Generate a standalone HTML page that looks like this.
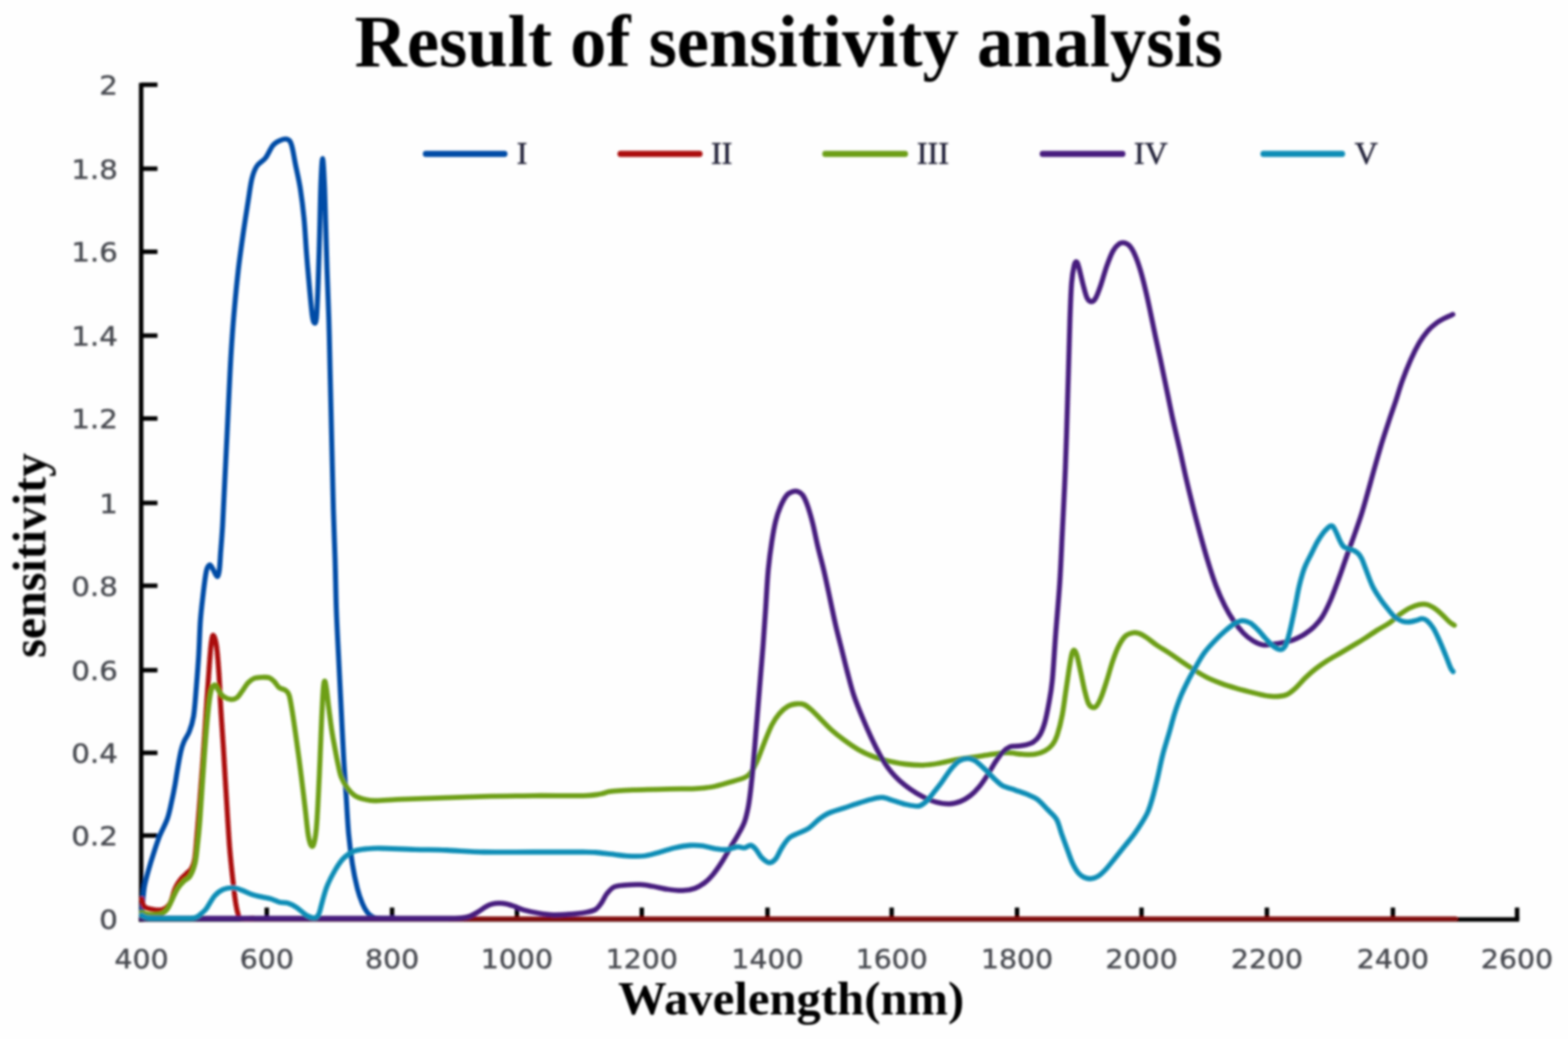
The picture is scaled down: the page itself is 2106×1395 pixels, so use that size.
<!DOCTYPE html>
<html lang="en"><head><meta charset="utf-8"><title>Result of sensitivity analysis</title>
<style>
html,body{margin:0;padding:0;background:#fefefe;}
body{width:2106px;height:1395px;overflow:hidden;}
svg{display:block;}
.serifb{font-family:"Liberation Serif",serif;font-weight:bold;fill:#000;}
.tick{font-family:"DejaVu Sans","Liberation Sans",sans-serif;fill:#474a50;stroke:#474a50;stroke-width:0.6px;font-size:38.6px;}
.leg{font-family:"Liberation Serif",serif;fill:#24243a;stroke:#24243a;stroke-width:0.7px;font-size:43px;}
.curve{fill:none;stroke-width:6.8;stroke-linejoin:round;stroke-linecap:round;}
</style></head><body>
<svg width="2106" height="1395" viewBox="0 0 2106 1395">
<defs><filter id="soft" x="0" y="0" width="2106" height="1395" filterUnits="userSpaceOnUse"><feGaussianBlur stdDeviation="1.4"/></filter></defs>
<rect x="0" y="0" width="2106" height="1395" fill="#fefefe"/>
<g filter="url(#soft)">
<text class="serifb" x="1059.3" y="89.2" font-size="100" text-anchor="middle" textLength="1166" lengthAdjust="spacingAndGlyphs">Result of sensitivity analysis</text>
<text class="serifb" x="1062.6" y="1361.8" font-size="63" text-anchor="middle" textLength="465" lengthAdjust="spacingAndGlyphs">Wavelength(nm)</text>
<text class="serifb" transform="translate(60.8 745.6) rotate(-90)" font-size="64" text-anchor="middle" textLength="275" lengthAdjust="spacingAndGlyphs">sensitivity</text>
<g stroke="#000" stroke-width="6.0" fill="none" stroke-linecap="butt">
<path d="M189.6 111.2V1237.4"/>
<path d="M186.6 1234.4H2040.5"/>
<path d="M189.6 113.8H211.5"/>
<path d="M189.6 226.5H211.5"/>
<path d="M189.6 338.0H211.5"/>
<path d="M189.6 450.6H211.5"/>
<path d="M189.6 561.9H211.5"/>
<path d="M189.6 675.3H211.5"/>
<path d="M189.6 786.4H211.5"/>
<path d="M189.6 899.8H211.5"/>
<path d="M189.6 1010.8H211.5"/>
<path d="M189.6 1121.8H211.5"/>
<path d="M358.3 1234.4V1218.5"/>
<path d="M526.6 1234.4V1218.5"/>
<path d="M694.3 1234.4V1218.5"/>
<path d="M862.0 1234.4V1218.5"/>
<path d="M1030.8 1234.4V1218.5"/>
<path d="M1197.6 1234.4V1218.5"/>
<path d="M1366.0 1234.4V1218.5"/>
<path d="M1533.2 1234.4V1218.5"/>
<path d="M1701.6 1234.4V1218.5"/>
<path d="M1870.8 1234.4V1218.5"/>
<path d="M2037.6 1234.4V1218.5"/>
</g>
<text class="tick" transform="translate(158.3 127.0) scale(1.02 0.9)" text-anchor="end">2</text>
<text class="tick" transform="translate(158.3 239.7) scale(1.02 0.9)" text-anchor="end">1.8</text>
<text class="tick" transform="translate(158.3 351.2) scale(1.02 0.9)" text-anchor="end">1.6</text>
<text class="tick" transform="translate(158.3 463.8) scale(1.02 0.9)" text-anchor="end">1.4</text>
<text class="tick" transform="translate(158.3 575.1) scale(1.02 0.9)" text-anchor="end">1.2</text>
<text class="tick" transform="translate(158.3 688.5) scale(1.02 0.9)" text-anchor="end">1</text>
<text class="tick" transform="translate(158.3 799.6) scale(1.02 0.9)" text-anchor="end">0.8</text>
<text class="tick" transform="translate(158.3 913.0) scale(1.02 0.9)" text-anchor="end">0.6</text>
<text class="tick" transform="translate(158.3 1024.0) scale(1.02 0.9)" text-anchor="end">0.4</text>
<text class="tick" transform="translate(158.3 1135.0) scale(1.02 0.9)" text-anchor="end">0.2</text>
<text class="tick" transform="translate(158.3 1247.2) scale(1.02 0.9)" text-anchor="end">0</text>
<text class="tick" transform="translate(190.2 1300.2) scale(0.987 0.9)" text-anchor="middle">400</text>
<text class="tick" transform="translate(358.3 1300.2) scale(0.987 0.9)" text-anchor="middle">600</text>
<text class="tick" transform="translate(526.6 1300.2) scale(0.987 0.9)" text-anchor="middle">800</text>
<text class="tick" transform="translate(694.3 1300.2) scale(0.987 0.9)" text-anchor="middle">1000</text>
<text class="tick" transform="translate(862.0 1300.2) scale(0.987 0.9)" text-anchor="middle">1200</text>
<text class="tick" transform="translate(1030.8 1300.2) scale(0.987 0.9)" text-anchor="middle">1400</text>
<text class="tick" transform="translate(1197.6 1300.2) scale(0.987 0.9)" text-anchor="middle">1600</text>
<text class="tick" transform="translate(1366.0 1300.2) scale(0.987 0.9)" text-anchor="middle">1800</text>
<text class="tick" transform="translate(1533.2 1300.2) scale(0.987 0.9)" text-anchor="middle">2000</text>
<text class="tick" transform="translate(1701.6 1300.2) scale(0.987 0.9)" text-anchor="middle">2200</text>
<text class="tick" transform="translate(1870.8 1300.2) scale(0.987 0.9)" text-anchor="middle">2400</text>
<text class="tick" transform="translate(2037.4 1300.2) scale(0.987 0.9)" text-anchor="middle">2600</text>
<path class="curve" stroke="#064ca6" d="M190.5 1226.0C190.7 1223.9 190.9 1219.4 191.5 1213.5C192.1 1207.6 192.6 1198.3 193.9 1190.7C195.2 1183.1 197.5 1175.5 199.6 1167.9C201.7 1160.3 204.0 1152.7 206.5 1145.1C209.0 1137.5 211.4 1129.9 214.4 1122.3C217.4 1114.7 222.0 1107.1 224.7 1099.5C227.4 1091.9 228.7 1084.4 230.4 1076.8C232.1 1069.2 233.7 1061.3 235.0 1054.0C236.3 1046.7 237.1 1040.6 238.4 1033.0C239.7 1025.4 241.6 1014.6 243.0 1008.4C244.4 1002.2 245.1 1000.4 247.0 996.0C248.9 991.6 252.1 987.8 254.3 982.1C256.5 976.4 258.5 971.1 260.0 961.6C261.5 952.1 262.4 938.8 263.5 925.1C264.6 911.4 266.0 894.7 266.9 879.5C267.8 864.3 268.2 847.3 269.1 834.0C270.1 820.7 271.3 811.0 272.6 799.8C273.9 788.6 275.6 773.9 277.1 767.0C278.6 760.1 280.2 758.9 281.7 758.5C283.2 758.1 284.6 761.9 286.2 764.5C287.8 767.1 290.1 773.8 291.5 774.0C292.9 774.2 293.7 771.3 294.5 766.0C295.3 760.7 295.6 752.2 296.3 742.0C297.1 731.8 298.1 720.3 299.0 705.0C299.9 689.7 300.7 670.3 301.7 650.0C302.7 629.7 304.0 603.0 305.0 583.0C306.0 563.0 306.8 545.5 307.5 530.0C308.2 514.5 308.8 503.3 309.5 490.0C310.2 476.7 311.1 462.8 312.0 450.0C312.9 437.2 313.7 427.5 315.0 413.0C316.3 398.5 318.1 379.7 320.0 363.0C321.9 346.3 324.5 328.5 326.7 313.0C328.9 297.5 331.4 282.2 333.3 270.0C335.2 257.8 336.4 247.8 338.3 240.0C340.2 232.2 341.9 227.7 345.0 223.0C348.1 218.3 353.1 216.7 356.7 212.0C360.3 207.3 363.4 198.9 366.7 195.0C370.0 191.1 373.4 189.6 376.7 188.3C380.0 187.0 384.2 186.2 386.7 187.3C389.2 188.4 390.0 189.6 391.7 195.0C393.4 200.4 394.8 210.3 396.7 220.0C398.6 229.7 401.4 240.8 403.3 253.0C405.2 265.2 406.9 278.5 408.3 293.0C409.7 307.5 410.5 324.3 411.7 340.0C412.9 355.7 414.4 373.2 415.7 387.0C417.0 400.8 418.3 415.3 419.3 423.0C420.3 430.7 420.8 432.3 421.7 433.0C422.6 433.7 424.1 435.8 425.0 427.0C425.9 418.2 426.6 399.0 427.3 380.0C428.0 361.0 428.7 335.2 429.3 313.0C429.9 290.8 430.3 263.7 431.0 247.0C431.7 230.3 432.5 213.0 433.3 213.0C434.1 213.0 435.0 233.0 435.7 247.0C436.4 261.0 436.7 277.7 437.3 297.0C437.9 316.3 438.6 340.8 439.3 363.0C440.0 385.2 441.0 407.7 441.7 430.0C442.4 452.3 442.6 468.7 443.3 497.0C444.0 525.3 445.0 569.0 445.7 600.0C446.4 631.0 447.0 658.0 447.7 683.0C448.4 708.0 449.3 727.7 450.0 750.0C450.7 772.3 450.9 794.2 451.7 817.0C452.5 839.8 453.9 864.3 455.0 887.0C456.1 909.7 457.2 930.8 458.3 953.0C459.4 975.2 460.6 1000.5 461.7 1020.0C462.8 1039.5 463.9 1053.3 465.0 1070.0C466.1 1086.7 466.9 1105.0 468.3 1120.0C469.7 1135.0 471.4 1147.8 473.3 1160.0C475.2 1172.2 477.8 1184.2 480.0 1193.0C482.2 1201.8 484.5 1207.7 486.7 1213.0C488.9 1218.3 491.1 1222.0 493.3 1225.0C495.5 1228.0 497.7 1229.4 500.0 1230.7C502.3 1232.0 502.0 1232.6 507.0 1233.0C512.0 1233.4 526.2 1233.0 530.0 1233.0"/>
<path class="curve" stroke="#820b0b" style="stroke-width:6.2px" d="M330 1233.6H1955"/>
<path class="curve" stroke="#ab0c0c" d="M190.5 1207.0C191.0 1208.6 191.7 1214.5 193.3 1216.7C194.9 1218.9 196.1 1219.2 200.0 1220.0C203.9 1220.8 212.0 1222.8 216.7 1221.7C221.4 1220.6 224.9 1218.0 228.0 1213.3C231.1 1208.6 232.7 1198.6 235.0 1193.3C237.3 1188.0 239.3 1185.0 241.8 1181.7C244.3 1178.4 247.5 1175.8 250.0 1173.3C252.5 1170.8 254.9 1170.0 256.8 1166.7C258.7 1163.4 260.2 1161.1 261.5 1153.3C262.8 1145.5 263.6 1132.2 264.7 1120.0C265.8 1107.8 266.7 1096.7 268.0 1080.0C269.3 1063.3 271.0 1041.1 272.5 1020.0C274.0 998.9 275.6 974.4 277.0 953.3C278.4 932.2 280.1 908.3 281.2 893.3C282.3 878.3 282.9 870.0 283.8 863.3C284.7 856.6 285.4 852.4 286.5 853.0C287.6 853.6 289.4 858.3 290.7 866.7C291.9 875.1 293.0 888.9 294.0 903.3C295.0 917.7 295.7 936.6 296.7 953.3C297.7 970.0 298.8 983.8 300.0 1003.3C301.2 1022.8 302.6 1047.8 304.0 1070.0C305.4 1092.2 306.8 1117.2 308.3 1136.7C309.9 1156.2 311.9 1173.9 313.3 1186.7C314.7 1199.5 315.6 1206.4 316.7 1213.3C317.8 1220.2 319.0 1225.0 320.0 1228.3C321.0 1231.6 319.2 1232.2 322.5 1233.0C325.8 1233.8 337.1 1233.0 340.0 1233.0"/>
<path class="curve" stroke="#6d9f12" d="M190.5 1225.0C192.1 1225.5 195.6 1227.7 200.0 1228.0C204.4 1228.3 212.5 1228.3 216.7 1227.0C220.9 1225.7 222.5 1223.4 225.0 1220.0C227.5 1216.6 229.5 1211.2 231.7 1206.7C233.9 1202.2 235.8 1197.2 238.3 1193.3C240.8 1189.4 243.9 1186.1 246.7 1183.3C249.5 1180.5 252.5 1180.6 255.0 1176.7C257.5 1172.8 260.0 1166.7 261.7 1160.0C263.4 1153.3 263.9 1146.2 265.0 1136.7C266.1 1127.2 267.2 1117.2 268.3 1103.3C269.4 1089.4 270.6 1069.4 271.7 1053.3C272.8 1037.2 273.9 1021.1 275.0 1006.7C276.1 992.3 277.2 978.4 278.3 966.7C279.4 955.0 280.6 943.9 281.7 936.7C282.8 929.5 283.7 926.1 285.0 923.3C286.3 920.5 287.9 919.4 289.3 920.0C290.7 920.6 291.5 924.2 293.3 926.7C295.1 929.2 297.2 933.0 300.0 935.0C302.8 937.0 306.9 938.7 310.0 939.0C313.1 939.3 315.8 938.5 318.3 936.7C320.8 934.9 322.5 931.6 325.0 928.3C327.5 925.0 330.5 919.6 333.3 916.7C336.1 913.8 338.6 911.9 341.7 910.7C344.8 909.5 348.4 909.4 351.7 909.3C355.0 909.2 358.9 909.0 361.7 910.0C364.5 911.0 366.1 912.8 368.3 915.0C370.5 917.2 372.5 921.3 375.0 923.3C377.5 925.2 381.1 925.0 383.3 926.7C385.5 928.4 386.8 928.9 388.3 933.3C389.8 937.7 390.7 944.4 392.2 953.3C393.7 962.2 395.6 975.6 397.2 986.7C398.8 997.8 400.3 1008.9 401.8 1020.0C403.3 1031.1 404.6 1042.2 406.0 1053.3C407.4 1064.4 408.7 1075.6 410.0 1086.7C411.3 1097.8 412.6 1112.0 413.8 1120.0C415.1 1128.0 416.3 1132.2 417.5 1134.5C418.7 1136.8 420.0 1137.5 421.2 1134.0C422.4 1130.5 423.8 1124.0 424.8 1113.3C425.9 1102.6 426.7 1085.5 427.5 1070.0C428.3 1054.5 429.1 1036.7 429.8 1020.0C430.5 1003.3 431.1 985.3 431.8 970.0C432.5 954.7 433.3 937.2 434.0 928.0C434.7 918.8 435.2 915.0 436.0 914.5C436.8 914.0 437.6 919.1 438.5 925.0C439.4 930.9 440.3 940.8 441.5 950.0C442.7 959.2 444.2 971.2 445.5 980.0C446.8 988.8 448.1 995.3 449.5 1003.0C450.9 1010.7 452.5 1019.3 454.0 1026.0C455.5 1032.7 456.2 1037.9 458.3 1043.3C460.4 1048.7 463.6 1054.1 466.7 1058.3C469.8 1062.5 472.8 1065.8 476.7 1068.3C480.6 1070.8 485.6 1072.2 490.0 1073.3C494.4 1074.4 496.1 1075.0 503.3 1075.0C510.5 1075.0 520.0 1073.8 533.3 1073.3C546.6 1072.8 563.8 1072.4 583.3 1071.7C602.8 1071.0 627.8 1069.9 650.0 1069.3C672.2 1068.7 694.5 1068.5 716.7 1068.3C738.9 1068.1 768.3 1068.7 783.3 1068.3C798.3 1067.9 800.6 1066.9 806.7 1066.0C812.8 1065.1 812.8 1063.6 820.0 1062.7C827.2 1061.8 836.7 1061.3 850.0 1060.7C863.3 1060.1 886.1 1059.6 900.0 1059.3C913.9 1059.0 923.8 1059.3 933.3 1058.8C942.8 1058.3 948.9 1057.9 956.7 1056.5C964.5 1055.1 972.8 1052.4 980.0 1050.3C987.2 1048.2 995.3 1046.1 1000.0 1044.0C1004.7 1041.9 1005.5 1041.2 1008.3 1037.5C1011.1 1033.8 1013.6 1028.8 1016.7 1022.0C1019.8 1015.2 1023.4 1004.8 1026.7 996.7C1030.0 988.6 1033.4 979.7 1036.7 973.3C1040.0 966.9 1043.1 962.5 1046.7 958.3C1050.3 954.1 1054.4 950.5 1058.3 948.3C1062.2 946.1 1066.4 945.4 1070.0 945.0C1073.6 944.6 1076.7 944.6 1080.0 946.0C1083.3 947.4 1086.4 950.1 1090.0 953.3C1093.6 956.5 1097.2 960.5 1101.7 965.0C1106.2 969.5 1111.4 975.3 1116.7 980.0C1122.0 984.7 1127.2 988.8 1133.3 993.3C1139.4 997.8 1146.6 1002.9 1153.3 1006.7C1160.0 1010.5 1166.6 1013.5 1173.3 1016.0C1180.0 1018.5 1186.1 1020.0 1193.3 1021.7C1200.5 1023.4 1208.9 1025.1 1216.7 1026.0C1224.5 1026.9 1232.8 1027.5 1240.0 1027.3C1247.2 1027.1 1252.8 1026.2 1260.0 1025.0C1267.2 1023.8 1275.5 1021.4 1283.3 1020.0C1291.1 1018.6 1298.4 1017.9 1306.7 1016.7C1315.0 1015.5 1325.5 1013.7 1333.3 1012.7C1341.1 1011.7 1346.6 1010.7 1353.3 1010.7C1360.0 1010.7 1367.2 1012.4 1373.3 1012.7C1379.4 1013.0 1385.0 1013.4 1390.0 1012.7C1395.0 1012.0 1399.4 1010.4 1403.3 1008.3C1407.2 1006.2 1410.5 1003.6 1413.3 1000.0C1416.1 996.4 1417.8 993.4 1420.0 986.7C1422.2 980.0 1424.8 970.0 1426.7 960.0C1428.7 950.0 1430.0 937.8 1431.7 926.7C1433.4 915.6 1435.3 901.6 1436.7 893.3C1438.1 885.0 1438.9 880.0 1440.0 876.7C1441.1 873.4 1442.2 872.6 1443.3 873.3C1444.4 874.0 1445.3 876.0 1446.7 881.0C1448.1 886.0 1450.0 895.7 1451.7 903.3C1453.4 910.9 1455.0 919.9 1456.7 926.7C1458.4 933.5 1460.0 940.2 1461.7 944.0C1463.4 947.8 1464.9 948.8 1466.7 949.5C1468.5 950.2 1470.5 950.5 1472.5 948.3C1474.5 946.0 1476.6 941.8 1479.0 936.0C1481.4 930.2 1484.2 921.1 1486.7 913.3C1489.2 905.5 1491.5 896.4 1494.0 889.0C1496.5 881.6 1498.9 874.8 1501.7 869.0C1504.5 863.2 1507.8 857.7 1511.0 854.5C1514.2 851.3 1517.8 850.4 1521.0 849.7C1524.2 849.0 1526.8 849.5 1530.0 850.5C1533.2 851.5 1536.1 853.4 1540.0 856.0C1543.9 858.6 1548.3 862.6 1553.3 866.0C1558.3 869.4 1564.4 872.8 1570.0 876.5C1575.6 880.2 1581.2 884.2 1586.7 888.0C1592.2 891.8 1597.8 895.5 1603.3 899.0C1608.8 902.5 1613.9 905.9 1620.0 909.0C1626.1 912.1 1633.3 915.0 1640.0 917.5C1646.7 920.0 1653.3 922.0 1660.0 924.0C1666.7 926.0 1673.3 927.6 1680.0 929.3C1686.7 931.0 1693.9 933.0 1700.0 934.0C1706.1 935.0 1712.0 935.2 1716.7 935.0C1721.4 934.8 1724.4 934.5 1728.3 932.7C1732.2 930.9 1735.8 927.8 1740.0 924.0C1744.2 920.2 1748.8 914.3 1753.3 910.0C1757.8 905.7 1761.7 902.2 1766.7 898.3C1771.7 894.4 1777.8 890.2 1783.3 886.7C1788.8 883.2 1794.4 880.3 1800.0 877.0C1805.6 873.7 1811.2 870.3 1816.7 867.0C1822.2 863.7 1827.8 860.5 1833.3 857.0C1838.8 853.5 1844.4 849.5 1850.0 846.0C1855.6 842.5 1861.7 839.5 1866.7 836.0C1871.7 832.5 1875.6 828.2 1880.0 825.0C1884.4 821.8 1888.8 818.7 1893.3 816.5C1897.8 814.3 1902.8 812.5 1906.7 811.7C1910.6 810.9 1913.4 810.9 1916.7 811.7C1920.0 812.5 1923.4 814.5 1926.7 816.7C1930.0 818.9 1933.4 822.0 1936.7 825.0C1940.0 828.0 1943.9 832.6 1946.7 835.0C1949.5 837.4 1952.2 838.8 1953.3 839.5"/>
<path class="curve" stroke="#471e7e" d="M190.5 1233.0C208.8 1233.0 265.1 1233.0 300.0 1233.0C334.9 1233.0 366.7 1233.0 400.0 1233.0C433.3 1233.0 473.3 1233.0 500.0 1233.0C526.7 1233.0 543.3 1233.0 560.0 1233.0C576.7 1233.0 590.0 1233.1 600.0 1233.0C610.0 1232.9 615.0 1232.7 620.0 1232.3C625.0 1231.9 626.5 1231.7 630.0 1230.5C633.5 1229.3 637.3 1227.2 641.0 1225.0C644.7 1222.8 649.1 1219.4 652.4 1217.5C655.7 1215.6 658.0 1214.6 661.0 1213.8C664.0 1213.0 667.5 1212.6 670.7 1212.6C673.9 1212.6 676.6 1212.9 680.0 1213.6C683.4 1214.3 687.3 1215.7 691.2 1217.0C695.1 1218.3 697.9 1220.2 703.3 1221.7C708.6 1223.2 716.6 1224.9 723.3 1226.0C730.0 1227.1 736.1 1228.1 743.3 1228.3C750.5 1228.5 759.5 1227.8 766.7 1227.3C773.9 1226.8 781.2 1226.0 786.7 1225.0C792.2 1224.0 796.5 1223.2 800.0 1221.0C803.5 1218.8 805.5 1215.5 808.0 1212.0C810.5 1208.5 812.2 1203.5 815.0 1200.0C817.8 1196.5 820.8 1192.7 825.0 1190.7C829.2 1188.8 834.2 1188.8 840.0 1188.3C845.8 1187.8 853.9 1187.4 860.0 1187.7C866.1 1188.0 870.6 1189.0 876.7 1190.0C882.8 1191.0 890.0 1193.0 896.7 1194.0C903.4 1195.0 910.6 1195.9 916.7 1195.7C922.8 1195.5 928.3 1194.5 933.3 1192.7C938.3 1190.9 942.5 1188.2 946.7 1185.0C950.9 1181.8 954.4 1178.0 958.3 1173.3C962.2 1168.6 966.1 1162.8 970.0 1156.7C973.9 1150.6 978.1 1142.8 981.7 1136.7C985.3 1130.6 988.7 1125.6 991.7 1120.0C994.8 1114.4 997.8 1109.4 1000.0 1103.3C1002.2 1097.2 1003.6 1090.5 1005.0 1083.3C1006.4 1076.1 1007.2 1069.4 1008.3 1060.0C1009.4 1050.6 1010.6 1038.9 1011.7 1026.7C1012.8 1014.5 1013.9 1000.0 1015.0 986.7C1016.1 973.4 1017.2 960.3 1018.3 946.7C1019.4 933.1 1020.6 918.6 1021.7 905.0C1022.8 891.4 1023.9 879.5 1025.0 865.0C1026.1 850.5 1027.2 834.4 1028.3 818.0C1029.4 801.6 1030.3 781.9 1031.7 766.7C1033.1 751.5 1035.0 737.8 1036.7 726.7C1038.4 715.6 1039.8 707.8 1041.7 700.0C1043.6 692.2 1045.8 685.8 1048.3 680.0C1050.8 674.2 1053.9 668.3 1056.7 665.0C1059.5 661.7 1062.5 660.8 1065.0 660.0C1067.5 659.2 1069.5 659.2 1071.7 660.0C1073.9 660.8 1076.1 661.7 1078.3 665.0C1080.5 668.3 1082.8 673.6 1085.0 680.0C1087.2 686.4 1089.5 694.4 1091.7 703.3C1093.9 712.2 1095.8 722.7 1098.3 733.3C1100.8 743.9 1103.9 754.8 1106.7 766.7C1109.5 778.7 1112.4 792.8 1115.0 805.0C1117.6 817.2 1120.0 829.2 1122.5 840.0C1125.0 850.8 1127.4 859.7 1130.0 870.0C1132.6 880.3 1135.2 891.5 1138.0 902.0C1140.8 912.5 1143.3 923.1 1146.7 933.3C1150.1 943.5 1154.4 953.8 1158.3 963.3C1162.2 972.8 1166.1 981.7 1170.0 990.0C1173.9 998.3 1177.8 1006.3 1181.7 1013.3C1185.6 1020.2 1189.1 1026.1 1193.3 1031.7C1197.5 1037.3 1201.7 1042.0 1206.7 1046.7C1211.7 1051.4 1217.8 1056.1 1223.3 1060.0C1228.8 1063.9 1234.4 1067.2 1240.0 1070.0C1245.6 1072.8 1250.9 1075.2 1256.7 1076.7C1262.5 1078.2 1269.5 1079.4 1275.0 1079.3C1280.5 1079.2 1285.3 1077.8 1290.0 1076.0C1294.7 1074.2 1299.1 1071.5 1303.3 1068.3C1307.5 1065.1 1311.1 1061.4 1315.0 1056.7C1318.9 1052.0 1323.1 1045.6 1326.7 1040.0C1330.3 1034.4 1333.4 1028.3 1336.7 1023.3C1340.0 1018.3 1343.4 1013.4 1346.7 1010.0C1350.0 1006.6 1353.4 1004.1 1356.7 1002.7C1360.0 1001.3 1363.1 1002.2 1366.7 1001.7C1370.3 1001.2 1374.7 1001.0 1378.3 1000.0C1381.9 999.0 1385.2 998.2 1388.3 996.0C1391.4 993.8 1394.2 991.0 1396.7 986.7C1399.2 982.4 1401.4 976.7 1403.3 970.0C1405.2 963.3 1406.6 956.0 1408.3 946.7C1410.0 937.4 1411.7 930.1 1413.3 914.0C1414.9 897.9 1416.3 871.8 1418.0 850.0C1419.7 828.2 1421.8 805.5 1423.3 783.3C1424.8 761.1 1425.6 738.9 1426.7 716.7C1427.8 694.5 1429.0 672.2 1430.0 650.0C1431.0 627.8 1431.7 608.3 1432.5 583.3C1433.3 558.3 1434.2 525.5 1435.0 500.0C1435.8 474.4 1436.3 450.0 1437.0 430.0C1437.7 410.0 1438.3 392.2 1439.3 380.0C1440.2 367.8 1441.6 361.4 1442.7 356.7C1443.8 352.0 1444.9 351.1 1446.0 351.7C1447.1 352.2 1447.8 354.7 1449.3 360.0C1450.8 365.3 1453.2 376.6 1455.0 383.3C1456.8 390.0 1458.2 396.4 1460.0 400.0C1461.8 403.6 1464.0 405.0 1466.0 405.0C1468.0 405.0 1469.7 403.6 1471.7 400.0C1473.8 396.4 1475.8 390.5 1478.3 383.3C1480.8 376.1 1483.9 364.5 1486.7 356.7C1489.5 348.9 1492.2 341.6 1495.0 336.7C1497.8 331.8 1500.8 329.1 1503.3 327.3C1505.8 325.5 1507.6 325.5 1510.0 326.0C1512.4 326.5 1515.0 327.6 1517.5 330.5C1520.0 333.4 1522.4 337.8 1524.8 343.3C1527.2 348.8 1529.5 355.5 1531.8 363.3C1534.1 371.1 1536.5 380.6 1538.7 390.0C1541.0 399.4 1543.2 410.0 1545.3 420.0C1547.4 430.0 1549.3 439.4 1551.5 450.0C1553.7 460.6 1556.1 471.1 1558.7 483.3C1561.3 495.5 1564.2 510.0 1567.0 523.3C1569.8 536.6 1572.4 550.0 1575.3 563.3C1578.2 576.6 1581.5 590.0 1584.5 603.3C1587.5 616.6 1590.2 630.0 1593.3 643.3C1596.4 656.6 1599.8 670.5 1603.0 683.3C1606.2 696.1 1609.5 708.3 1612.7 720.0C1615.9 731.7 1618.8 742.2 1622.2 753.3C1625.6 764.4 1629.5 776.7 1633.3 786.7C1637.1 796.7 1641.1 805.5 1645.0 813.3C1648.9 821.1 1652.5 827.2 1656.7 833.3C1660.9 839.4 1665.6 845.4 1670.0 850.0C1674.4 854.6 1678.8 858.0 1683.3 860.7C1687.8 863.4 1692.2 865.3 1696.7 866.0C1701.2 866.7 1705.6 865.5 1710.0 865.0C1714.4 864.5 1718.8 863.7 1723.3 862.7C1727.8 861.8 1732.6 860.8 1736.7 859.3C1740.8 857.8 1745.0 855.6 1748.0 854.0C1751.0 852.4 1752.1 851.7 1755.0 849.5C1757.9 847.3 1762.0 844.4 1765.5 840.8C1769.0 837.2 1772.4 833.8 1776.0 828.0C1779.6 822.2 1783.2 814.7 1787.0 806.0C1790.8 797.3 1794.5 786.8 1798.5 776.0C1802.5 765.2 1807.2 751.1 1810.8 741.0C1814.4 730.9 1817.2 723.6 1820.0 715.5C1822.8 707.4 1825.4 700.3 1827.9 692.5C1830.4 684.7 1832.7 676.6 1834.9 668.8C1837.1 661.0 1839.2 653.5 1841.3 645.9C1843.4 638.2 1845.5 630.5 1847.7 622.9C1849.9 615.2 1852.2 607.1 1854.3 600.0C1856.4 592.9 1858.4 586.7 1860.6 580.0C1862.8 573.3 1865.0 566.7 1867.2 560.0C1869.5 553.3 1871.4 548.0 1874.1 540.0C1876.8 532.0 1879.8 521.4 1883.2 511.9C1886.6 502.4 1890.9 491.8 1894.7 483.2C1898.5 474.6 1902.4 466.8 1906.2 460.3C1910.0 453.8 1913.9 448.6 1917.7 444.2C1921.5 439.8 1925.3 436.8 1929.1 433.9C1932.9 431.0 1936.9 428.9 1940.6 427.0C1944.3 425.1 1949.5 423.0 1951.3 422.2"/>
<path class="curve" stroke="#0b8db6" d="M190.5 1229.0C192.1 1229.6 193.4 1231.9 200.0 1232.5C206.6 1233.1 220.8 1232.8 230.0 1232.8C239.2 1232.8 249.8 1232.9 255.0 1232.8C260.2 1232.7 259.4 1232.6 261.2 1232.2C263.0 1231.8 264.1 1231.4 265.7 1230.4C267.3 1229.4 269.1 1227.7 271.0 1226.0C272.9 1224.3 274.2 1223.9 277.1 1220.0C280.0 1216.1 284.7 1206.8 288.5 1202.5C292.3 1198.2 295.7 1195.9 299.9 1194.1C304.1 1192.3 309.4 1191.7 313.6 1191.9C317.8 1192.1 320.8 1193.8 325.0 1195.3C329.2 1196.8 334.1 1199.5 338.7 1201.0C343.2 1202.5 348.1 1203.5 352.3 1204.4C356.5 1205.4 359.9 1205.6 363.7 1206.7C367.5 1207.8 371.3 1210.2 375.1 1211.2C378.9 1212.2 382.7 1211.4 386.5 1212.6C390.3 1213.8 394.1 1215.7 397.9 1218.1C401.7 1220.5 406.3 1225.0 409.3 1227.2C412.3 1229.4 414.1 1230.2 416.0 1231.0C417.9 1231.8 419.0 1232.2 420.5 1232.3C422.0 1232.4 423.7 1232.5 425.0 1231.5C426.3 1230.5 427.3 1229.5 428.5 1226.5C429.7 1223.5 430.4 1219.5 432.1 1213.5C433.8 1207.5 435.9 1198.3 438.9 1190.7C441.9 1183.1 446.5 1174.4 450.3 1167.9C454.1 1161.5 457.5 1156.2 461.7 1152.0C465.9 1147.8 470.1 1144.9 475.4 1142.8C480.7 1140.7 487.5 1140.2 493.6 1139.6C499.7 1139.0 501.2 1138.8 511.9 1139.0C522.5 1139.2 542.8 1140.2 557.5 1140.6C572.2 1141.0 584.6 1140.9 600.0 1141.5C615.4 1142.1 630.5 1143.6 650.0 1144.0C669.5 1144.4 694.5 1144.0 716.7 1144.0C738.9 1144.0 769.4 1143.9 783.3 1144.0C797.2 1144.1 793.9 1144.0 800.0 1144.5C806.1 1145.0 812.8 1145.9 820.0 1146.7C827.2 1147.5 835.5 1148.9 843.3 1149.3C851.1 1149.7 859.5 1149.9 866.7 1149.0C873.9 1148.1 880.0 1145.8 886.7 1144.0C893.4 1142.2 900.0 1139.8 906.7 1138.3C913.4 1136.8 920.6 1135.4 926.7 1135.0C932.8 1134.6 937.8 1135.0 943.3 1135.7C948.8 1136.4 954.4 1138.5 960.0 1139.3C965.6 1140.1 971.7 1141.1 976.7 1140.7C981.7 1140.3 986.1 1137.4 990.0 1137.0C993.9 1136.6 997.0 1138.6 1000.0 1138.3C1003.0 1138.0 1005.8 1134.7 1008.3 1135.0C1010.8 1135.3 1012.5 1137.2 1015.0 1140.0C1017.5 1142.8 1020.2 1148.7 1023.3 1151.7C1026.3 1154.8 1030.2 1158.0 1033.3 1158.3C1036.4 1158.6 1038.9 1156.6 1041.7 1153.3C1044.5 1150.0 1047.0 1143.0 1050.0 1138.3C1053.0 1133.6 1056.1 1128.3 1060.0 1125.0C1063.9 1121.7 1068.8 1120.5 1073.3 1118.3C1077.8 1116.1 1082.2 1114.8 1086.7 1111.7C1091.2 1108.7 1095.6 1103.3 1100.0 1100.0C1104.4 1096.7 1107.8 1094.2 1113.3 1091.7C1118.8 1089.2 1126.6 1087.2 1133.3 1085.0C1140.0 1082.8 1147.2 1080.2 1153.3 1078.3C1159.4 1076.3 1164.7 1074.6 1170.0 1073.3C1175.3 1072.0 1180.0 1070.4 1185.0 1070.7C1190.0 1071.0 1194.7 1073.5 1200.0 1075.0C1205.3 1076.5 1211.2 1078.8 1216.7 1080.0C1222.2 1081.2 1228.9 1082.8 1233.3 1082.3C1237.7 1081.8 1240.0 1079.6 1243.3 1076.7C1246.6 1073.8 1249.7 1069.5 1253.3 1065.0C1256.9 1060.5 1261.1 1055.3 1265.0 1050.0C1268.9 1044.7 1272.8 1038.0 1276.7 1033.3C1280.6 1028.6 1284.4 1024.2 1288.3 1021.7C1292.2 1019.2 1296.4 1018.3 1300.0 1018.3C1303.6 1018.3 1306.1 1019.2 1310.0 1021.7C1313.9 1024.2 1318.8 1029.1 1323.3 1033.3C1327.8 1037.5 1332.8 1043.1 1336.7 1046.7C1340.6 1050.3 1342.3 1052.7 1346.7 1055.0C1351.1 1057.3 1357.8 1058.8 1363.3 1060.7C1368.8 1062.7 1375.0 1064.6 1380.0 1066.7C1385.0 1068.8 1388.8 1070.0 1393.3 1073.3C1397.8 1076.6 1402.4 1082.2 1406.7 1086.7C1411.0 1091.2 1415.8 1094.5 1419.0 1100.0C1422.2 1105.5 1423.6 1113.3 1426.0 1120.0C1428.4 1126.7 1430.8 1133.3 1433.3 1140.0C1435.8 1146.7 1438.3 1154.5 1441.0 1160.0C1443.7 1165.5 1446.6 1170.2 1449.5 1173.3C1452.4 1176.4 1455.5 1177.8 1458.3 1178.8C1461.0 1179.8 1463.2 1180.0 1466.0 1179.6C1468.8 1179.2 1471.8 1178.4 1475.0 1176.4C1478.2 1174.4 1481.4 1171.3 1485.0 1167.5C1488.6 1163.7 1492.5 1158.4 1496.7 1153.3C1500.9 1148.2 1505.6 1142.2 1510.0 1136.7C1514.4 1131.2 1519.4 1125.3 1523.3 1120.0C1527.2 1114.7 1530.2 1110.0 1533.3 1105.0C1536.4 1100.0 1539.2 1095.8 1541.7 1090.0C1544.2 1084.2 1546.1 1077.8 1548.3 1070.0C1550.5 1062.2 1552.8 1052.8 1555.0 1043.3C1557.2 1033.8 1559.1 1023.3 1561.7 1013.3C1564.3 1003.3 1567.8 992.7 1570.5 983.3C1573.2 973.9 1575.3 965.0 1578.0 956.7C1580.7 948.4 1583.5 940.5 1586.5 933.3C1589.5 926.1 1592.7 919.8 1596.0 913.3C1599.3 906.8 1602.9 900.6 1606.5 894.5C1610.1 888.4 1613.3 882.2 1617.5 876.5C1621.7 870.8 1626.9 865.3 1631.5 860.5C1636.1 855.7 1640.5 851.4 1645.0 847.5C1649.5 843.6 1654.5 839.4 1658.5 837.0C1662.5 834.6 1665.6 833.4 1669.0 833.3C1672.4 833.2 1675.7 834.3 1679.0 836.3C1682.3 838.2 1685.5 841.5 1689.0 845.0C1692.5 848.5 1696.5 853.8 1700.0 857.5C1703.5 861.2 1706.7 865.0 1710.0 867.5C1713.3 870.0 1717.2 872.3 1720.0 872.2C1722.8 872.1 1724.6 870.5 1726.5 867.0C1728.4 863.5 1730.0 856.5 1731.5 851.0C1733.0 845.5 1734.1 840.2 1735.5 833.7C1736.9 827.2 1738.5 819.6 1740.0 812.0C1741.5 804.4 1743.1 795.1 1744.7 788.1C1746.3 781.1 1747.9 775.2 1749.5 770.0C1751.1 764.8 1752.4 761.4 1754.4 757.0C1756.4 752.6 1758.8 748.3 1761.3 743.4C1763.8 738.5 1766.6 732.2 1769.3 727.5C1772.0 722.8 1774.9 718.5 1777.4 715.2C1779.9 712.0 1782.5 709.6 1784.2 708.0C1785.9 706.4 1786.6 705.8 1787.7 705.8C1788.8 705.8 1789.8 705.9 1791.1 707.8C1792.4 709.7 1794.2 713.8 1795.7 717.0C1797.2 720.2 1798.8 724.4 1800.3 727.3C1801.8 730.2 1803.0 732.6 1804.9 734.2C1806.8 735.8 1809.5 736.2 1811.8 737.1C1814.1 738.0 1816.6 738.4 1818.7 739.4C1820.8 740.4 1822.7 741.6 1824.4 743.4C1826.1 745.2 1827.5 747.2 1829.0 750.3C1830.5 753.4 1831.2 755.9 1833.6 762.0C1836.0 768.1 1840.0 779.8 1843.3 786.7C1846.6 793.6 1850.0 798.3 1853.3 803.3C1856.6 808.3 1860.0 812.5 1863.3 816.7C1866.6 820.9 1870.0 825.4 1873.3 828.3C1876.6 831.2 1880.0 832.9 1883.3 834.0C1886.6 835.1 1890.0 835.2 1893.3 835.0C1896.6 834.8 1900.5 833.4 1903.3 832.7C1906.1 832.0 1907.8 830.6 1910.0 830.7C1912.2 830.8 1914.2 831.2 1916.7 833.3C1919.2 835.4 1922.2 838.8 1925.0 843.3C1927.8 847.8 1930.5 853.9 1933.3 860.0C1936.1 866.1 1939.2 873.9 1941.7 880.0C1944.2 886.1 1946.6 893.1 1948.3 896.7C1950.0 900.3 1951.1 900.9 1951.7 901.7"/>
<path class="curve" stroke="#064ca6" style="stroke-width:8.2px" d="M572.0 206.7H677.5"/>
<text class="leg" x="694.0" y="220.3">I</text>
<path class="curve" stroke="#ab0c0c" style="stroke-width:8.2px" d="M833.5 206.7H939.5"/>
<text class="leg" x="955.0" y="220.3">II</text>
<path class="curve" stroke="#6d9f12" style="stroke-width:8.2px" d="M1108.5 206.7H1215.5"/>
<text class="leg" x="1231.5" y="220.3">III</text>
<path class="curve" stroke="#471e7e" style="stroke-width:8.2px" d="M1400.5 206.7H1507.5"/>
<text class="leg" x="1523.0" y="220.3">IV</text>
<path class="curve" stroke="#0b8db6" style="stroke-width:8.2px" d="M1697.0 206.7H1802.5"/>
<text class="leg" x="1819.5" y="220.3">V</text>
</g>
</svg></body></html>
